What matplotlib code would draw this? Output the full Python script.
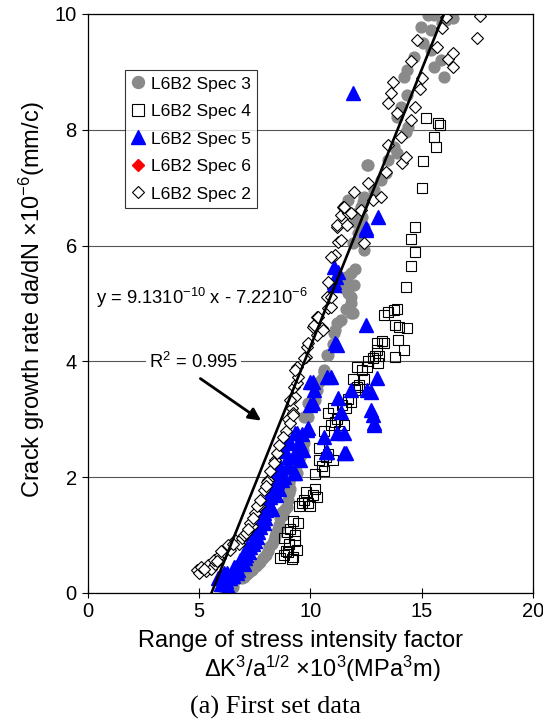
import numpy as np
import matplotlib.pyplot as plt

plt.rcParams['font.family'] = ['Liberation Sans', 'DejaVu Sans']
plt.rcParams['mathtext.default'] = 'regular'

# ensayos: x = dK^3/a^(1/2) (x10^3), y = da/dN (x10^-6 mm/c)
spec3_x = [6.05, 6.2, 6.3, 6.4, 6.6, 7.0, 7.15, 7.35, 7.55, 7.75, 8.0, 8.15, 8.35, 8.45, 8.6,
           8.65, 8.7, 8.95, 9.0, 9.05, 9.1, 9.0, 9.1, 9.4, 9.45, 9.65, 9.7, 6.5, 6.85,
           6.2, 6.5, 6.9, 7.25, 7.45, 7.65, 7.85, 8.1, 8.25, 8.4, 8.55, 8.75, 8.85, 9.05, 9.3, 9.55,
           9.7, 9.9, 9.9, 10.2, 10.6, 10.6, 10.8, 10.75, 11.05, 11.2, 11.35, 11.9, 11.8,
           10.3, 10.4, 10.5, 11.0, 11.1, 11.6, 11.7, 12.0, 12.2, 12.0, 12.3,
           11.8, 11.95, 11.7, 11.5, 11.8, 11.6, 11.5, 11.8, 11.9, 12.4, 12.35, 12.15,
           12.4, 12.1, 12.25, 11.5, 11.7, 12.4, 12.85, 13.15, 13.4, 12.6, 12.55, 13.5,
           13.9, 13.75, 14.3, 14.4, 13.9, 14.05, 14.35, 14.2, 14.35, 14.65, 15.55, 16.0,
           15.85, 15.4, 15.05, 15.4, 14.95, 15.3, 15.55, 16.2, 16.4, 16.1, 15.9]
spec3_y = [0.09, 0.05, 0.15, 0.17, 0.22, 0.28, 0.33, 0.40, 0.47, 0.54, 0.66, 0.79, 0.92, 1.04, 1.17,
           1.30, 1.40, 1.49, 1.61, 1.73, 1.80, 2.12, 1.99, 2.07, 2.25, 2.47, 2.59, 0.10, 0.30,
           0.12, 0.20, 0.25, 0.37, 0.45, 0.50, 0.60, 0.72, 0.85, 0.98, 1.10, 1.35, 1.45, 1.90, 2.15, 2.35,
           3.04, 3.28, 3.04, 3.33, 3.82, 3.85, 4.11, 4.11, 4.49, 4.66, 4.72, 4.84, 4.84,
           3.50, 3.65, 3.70, 4.30, 4.55, 4.90, 5.35, 5.60, 6.10, 6.40, 6.50,
           5.00, 5.32, 5.18, 5.27, 5.11, 5.46, 5.35, 5.53, 6.04, 5.92, 6.75, 6.22,
           6.32, 6.56, 6.67, 6.67, 6.79, 6.84, 6.96, 7.13, 7.25, 7.39, 7.39, 7.48,
           7.60, 7.70, 7.96, 8.05, 8.22, 8.39, 8.60, 8.91, 9.03, 9.26, 9.09, 8.91,
           9.21, 9.38, 9.50, 9.72, 9.78, 9.98, 9.98, 9.98, 9.93, 9.90, 9.85]

spec4_x = [8.65, 8.8, 9.0, 9.2, 9.4, 9.05, 8.8, 9.3, 9.1, 9.45, 9.2, 8.95, 8.9, 9.3, 9.15,
           9.5, 9.7, 9.9, 10.1, 10.3, 9.8, 10.0, 9.6, 10.2,
           10.2, 10.5, 10.8, 10.4, 11.0, 10.6, 10.4, 10.7,
           10.6, 10.9, 11.2, 11.5, 11.0, 10.8, 11.4, 11.6, 11.1, 11.3,
           11.7, 12.0, 12.2, 11.9, 12.4, 12.1, 12.3, 11.8, 12.1,
           12.55, 12.8, 13.0, 13.2, 12.9, 13.05, 13.3, 13.0, 12.6, 13.1,
           13.8, 14.2, 13.95, 13.8, 14.35, 13.5, 13.75, 13.3, 13.9, 14.0,
           14.3, 14.5, 14.7, 14.5, 14.7, 15.0, 15.05, 15.65, 15.55, 15.2, 15.75, 15.8]
spec4_y = [0.60, 0.65, 0.70, 0.62, 0.75, 0.85, 0.95, 1.00, 1.10, 1.20, 1.25, 1.05, 0.72, 0.90, 0.58,
           1.50, 1.60, 1.55, 1.70, 1.65, 1.75, 1.50, 1.55, 1.80,
           2.05, 2.20, 2.40, 2.50, 2.30, 2.10, 2.30, 2.35,
           2.80, 2.90, 3.00, 2.90, 3.20, 3.10, 3.25, 3.20, 2.95, 2.80,
           3.35, 3.50, 3.60, 3.70, 3.70, 3.90, 3.85, 3.30, 3.55,
           3.90, 4.05, 4.20, 4.35, 4.10, 3.97, 4.32, 4.32, 4.00, 4.10,
           4.08, 4.20, 4.37, 4.63, 4.58, 4.85, 4.89, 4.80, 4.90, 4.60,
           5.28, 5.65, 5.89, 6.11, 6.32, 7.00, 7.46, 7.70, 7.88, 8.20, 8.12, 8.08]

spec5_x = [5.85, 5.95, 6.1, 6.25, 6.0, 6.3, 6.55, 6.4, 6.85, 6.7, 7.0, 7.15, 7.3, 7.1,
           7.45, 7.6, 7.4, 7.75, 7.75, 7.9, 8.0, 7.85, 8.05, 8.2, 8.35, 8.5, 8.5, 8.65,
           8.95, 9.25, 9.3, 8.95, 9.1, 9.3, 9.4, 9.4, 9.65, 9.55, 8.2, 8.7, 9.0, 8.8,
           6.2, 6.5, 6.65, 6.75, 7.05, 7.25, 7.5, 7.65, 7.9, 7.95, 8.25, 8.45, 8.6, 8.8,
           9.05, 9.2, 9.5, 9.6,
           9.85, 9.9, 10.6, 10.7, 10.75, 11.2, 11.5, 11.5, 11.6, 10.0, 10.1, 10.0, 10.1,
           10.15, 10.75, 10.9, 11.25, 11.8, 11.35, 12.55, 12.7, 13.0, 12.7, 12.8, 12.85,
           12.85, 11.1, 11.2, 12.5, 11.05, 11.05, 11.05, 11.25, 11.15, 12.5, 12.5, 13.05, 11.9]
spec5_y = [0.26, 0.28, 0.35, 0.35, 0.15, 0.10, 0.45, 0.25, 0.57, 0.35, 0.50, 0.79, 0.79, 0.65,
           1.04, 0.97, 0.85, 1.14, 1.21, 1.38, 1.43, 1.25, 1.61, 1.66, 1.83, 1.92, 2.07, 2.18,
           2.18, 2.07, 2.07, 2.64, 2.59, 2.76, 2.47, 2.76, 2.47, 2.30, 1.50, 1.95, 2.35, 2.45,
           0.20, 0.30, 0.45, 0.40, 0.60, 0.70, 0.90, 1.05, 1.20, 1.30, 1.45, 1.70, 1.80, 2.00,
           2.20, 2.35, 2.60, 2.75,
           2.82, 2.85, 2.69, 2.44, 2.44, 2.76, 2.76, 2.42, 2.42, 3.25, 3.28, 3.64, 3.64,
           3.50, 3.73, 3.73, 3.37, 3.50, 3.13, 3.50, 3.47, 3.71, 3.16, 3.07, 2.94,
           2.90, 4.32, 4.28, 4.63, 5.37, 5.32, 5.63, 5.54, 5.45, 6.27, 6.30, 6.50, 8.64]

spec6_x = []
spec6_y = []

spec2_x = [4.9, 5.0, 5.1, 5.3, 5.4, 5.55, 5.7, 5.65, 5.95, 5.95, 6.1, 6.25, 6.4, 6.6, 6.8,
           5.2, 5.8, 6.0, 6.3, 6.5, 6.9, 7.35, 7.7, 8.1, 8.4, 8.9, 9.0, 9.15,
           7.0, 7.1, 7.3, 7.2, 7.5, 7.4, 7.6, 7.75, 7.9, 8.05, 8.0, 8.2, 8.35, 8.5, 8.6,
           8.75, 9.1, 9.2, 9.2, 9.3, 9.1, 9.25, 9.4, 9.45, 9.4, 9.3, 9.8, 9.7, 9.85, 9.9,
           10.3, 10.1, 10.5, 10.15, 10.55, 10.3, 10.35, 10.8, 10.9, 10.75, 10.9, 10.8,
           11.1, 10.9, 11.25, 11.35, 12.4, 11.2, 11.2, 11.65, 11.35, 11.7, 11.8, 12.25,
           11.45, 11.5, 12.8, 13.15, 11.95, 12.6, 13.4, 14.1, 14.3, 13.5, 14.05, 14.5,
           13.9, 14.7, 13.5, 13.6, 14.9, 13.7, 15.0, 16.4, 14.5, 16.2, 16.4, 15.7, 14.8,
           17.5, 15.9, 17.6, 16.1]
spec2_y = [0.40, 0.35, 0.45, 0.38, 0.48, 0.42, 0.50, 0.57, 0.60, 0.66, 0.70, 0.79, 0.75, 0.92, 0.85,
           0.42, 0.55, 0.72, 0.82, 0.85, 0.95, 1.15, 1.50, 1.95, 2.30, 2.80, 3.00, 3.20,
           1.00, 1.04, 1.21, 1.10, 1.38, 1.30, 1.50, 1.61, 1.78, 1.92, 1.85, 2.10, 2.25, 2.42, 2.55,
           2.69, 2.94, 3.11, 3.07, 3.39, 3.33, 3.56, 3.63, 3.73, 3.90, 3.85, 4.08, 4.06, 4.25, 4.32,
           4.46, 4.59, 4.58, 4.63, 4.54, 4.77, 4.77, 4.92, 4.94, 5.11, 5.11, 5.37,
           5.84, 5.80, 6.06, 6.10, 6.04, 6.32, 6.36, 6.36, 6.53, 6.56, 6.56, 6.61,
           6.67, 6.67, 6.79, 6.84, 6.93, 7.08, 7.27, 7.43, 7.53, 7.74, 7.88, 8.17,
           8.29, 8.39, 8.46, 8.64, 8.70, 8.83, 8.89, 9.09, 9.19, 9.22, 9.33, 9.43, 9.55,
           9.58, 9.76, 9.97, 9.95]

# recta de ajuste (extremos de la linea dibujada)
ajuste_x = [5.55, 16.0]
ajuste_y = [0.0, 10.0]

fig = plt.figure(figsize=(5.43, 7.24), dpi=100)
ax = fig.add_axes([0.162, 0.181, 0.8196, 0.7997])

ax.plot(spec3_x, spec3_y, ls='none', marker='o', ms=7.8, mfc='#8a8a8a', mec='#8a8a8a',
        label='L6B2 Spec 3')
ax.plot(spec4_x, spec4_y, ls='none', marker='s', ms=7.8, mfc='none', mec='black', mew=0.8,
        label='L6B2 Spec 4')
ax.plot(spec5_x, spec5_y, ls='none', marker='^', ms=9.5, mfc='#0000ff', mec='#0000ff',
        label='L6B2 Spec 5')
ax.plot(spec6_x, spec6_y, ls='none', marker='D', ms=6, mfc='#ff0000', mec='#ff0000',
        label='L6B2 Spec 6')
ax.plot(spec2_x, spec2_y, ls='none', marker='D', ms=5.8, mfc='white', mec='black', mew=0.8,
        label='L6B2 Spec 2')
ax.plot(ajuste_x, ajuste_y, color='black', lw=1.9)

ax.set_xlim(0, 20)
ax.set_ylim(0, 10)
ax.set_xticks(np.arange(0, 21, 5))
ax.set_yticks(np.arange(0, 11, 2))
ax.yaxis.grid(True, color='#555555', lw=0.8)
ax.set_axisbelow(True)
ax.tick_params(axis='x', direction='inout', length=7, labelsize=14.5, pad=3)
ax.tick_params(axis='y', direction='out', length=4, labelsize=14.5, pad=4)
for s in ax.spines.values():
    s.set_linewidth(0.9)

leg = ax.legend(loc='upper left', bbox_to_anchor=(0.083, 0.903), fontsize=12.6,
                frameon=True, fancybox=False, edgecolor='black', borderaxespad=0,
                handletextpad=0.35, handlelength=0.8, labelspacing=0.7, borderpad=0.35,
                markerscale=1.1)
leg.get_frame().set_linewidth(0.8)

ax.text(0.36, 5.1, 'y = 9.1310$^{-10}$ x - 7.2210$^{-6}$', fontsize=13.2, ha='left', va='center')
ax.text(4.73, 3.99, 'R$^{2}$ = 0.995', fontsize=13.2, ha='center', va='center',
        bbox=dict(facecolor='white', edgecolor='none', pad=2))
ax.annotate('', xy=(7.88, 2.95), xytext=(4.95, 3.73),
            arrowprops=dict(arrowstyle='-|>', lw=2, color='black', mutation_scale=18))

fig.text(32 / 543, 1 - 300 / 724, 'Crack growth rate da/dN ×10$^{-6}$(mm/c)', rotation=90,
         ha='center', va='center', fontsize=17)
fig.text(300 / 543, 1 - 641 / 724, 'Range of stress intensity factor', ha='center', va='center',
         fontsize=17)
fig.text(322 / 543, 1 - 669 / 724, 'ΔK$^{3}$/a$^{1/2}$ ×10$^{3}$(MPa$^{3}$m)', ha='center',
         va='center', fontsize=17)
fig.text(276 / 543, 1 - 707 / 724, '(a) First set data', ha='center', va='center', fontsize=19,
         family='Liberation Serif')

fig.savefig('out.png', dpi=100)
